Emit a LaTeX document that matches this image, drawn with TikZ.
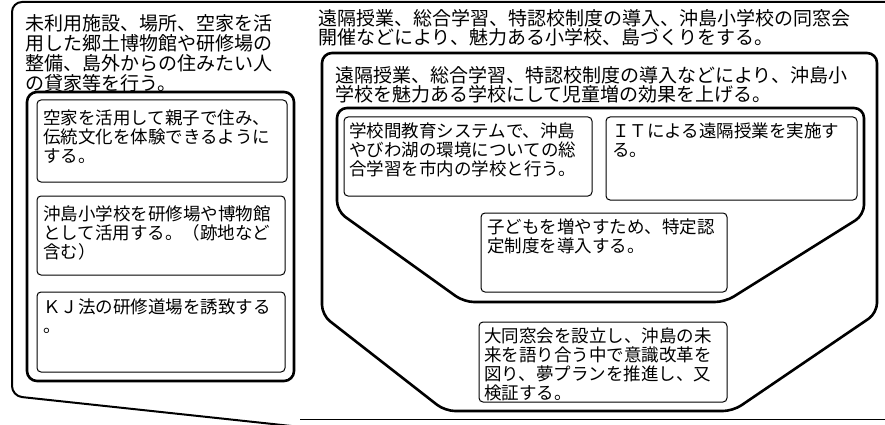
\documentclass[tikz,border=0pt]{standalone}
\usepackage{fontspec}
\newfontfamily\jp{Noto Sans CJK JP}
\begin{document}
\begin{tikzpicture}[x=1pt,y=-1pt,
  heavy/.style={draw, line width=2.6pt, rounded corners=10pt},
  outerline/.style={draw, line width=2pt, rounded corners=10pt},
  sub/.style={draw, line width=1pt, rounded corners=4pt},
  head/.style={anchor=north west, inner sep=0pt, align=left, font=\jp\fontsize{19}{19.2}\selectfont},
  lhead/.style={head, font=\jp\fontsize{19}{19.8}\selectfont},
  body/.style={anchor=north west, inner sep=0pt, align=left, font=\jp\fontsize{17.5}{18.7}\selectfont}]
\useasboundingbox (0,0) rectangle (885,425);
\fill[white] (0,0) rectangle (885,425);
% outer frame
\draw[outerline] (890,2) -- (12,2) -- (12,396) -- (310,428);
\draw[line width=1pt] (300,419) -- (885,419);
% left group
\node[lhead] (lheadtext) at (25,14.5) {未利用施設、場所、空家を活\\用した郷土博物館や研修場の\\整備、島外からの住みたい人\\の貸家等を行う。};
\draw[heavy] (27,92) rectangle (294,381);
\draw[sub] (37,100) rectangle (287,182);
\node[body] (l1) at (43,110) {空家を活用して親子で住み、\\伝統文化を体験できるように\\する。};
\draw[sub] (37,196) rectangle (285,275);
\node[body] (l2) at (43,206) {沖島小学校を研修場や博物館\\として活用する。（跡地など\\含む）};
\draw[sub] (37,292) rectangle (285,372);
\node[body] (l3) at (43,299) {ＫＪ法の研修道場を誘致する\\。};
% right group
\node[head] (rhead) at (318,9.5) {遠隔授業、総合学習、特認校制度の導入、沖島小学校の同窓会\\開催などにより、魅力ある小学校、島づくりをする。};
\draw[heavy] (322,200) -- (322,53) -- (877,53) -- (877,313) -- (733,411) -- (445,411) -- (322,315) -- cycle;
\node[head] (bigtext) at (335,66.5) {遠隔授業、総合学習、特認校制度の導入などにより、沖島小\\学校を魅力ある学校にして児童増の効果を上げる。};
\draw[heavy] (337,160) -- (337,108) -- (864,108) -- (864,215) -- (725,302) -- (464,302) -- (337,211) -- cycle;
\draw[sub] (344,117) rectangle (592,196);
\node[body] (a) at (349,123) {学校間教育システムで、沖島\\やびわ湖の環境についての総\\合学習を市内の学校と行う。};
\draw[sub] (606,117) rectangle (857,200);
\node[body] (b) at (612,123) {ＩＴによる遠隔授業を実施す\\る。};
\draw[sub] (481,213) rectangle (727,292);
\node[body] (c) at (487,219) {子どもを増やすため、特定認\\定制度を導入する。};
\draw[sub] (479,322) rectangle (727,402);
\node[body] (d) at (484,328) {大同窓会を設立し、沖島の未\\来を語り合う中で意識改革を\\図り、夢プランを推進し、又\\検証する。};
\end{tikzpicture}
\end{document}
